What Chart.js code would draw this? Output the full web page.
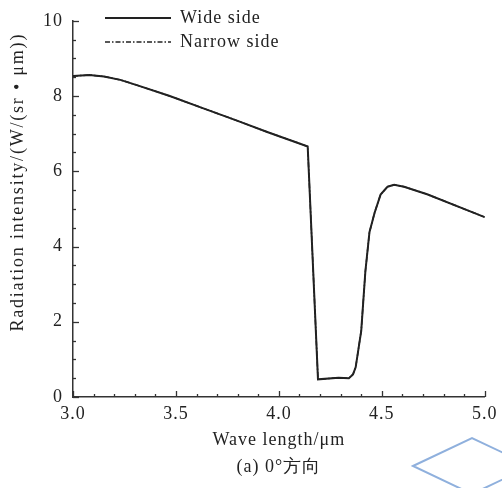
<!DOCTYPE html>
<html>
<head>
<meta charset="utf-8">
<script src="https://cdn.jsdelivr.net/npm/chart.js@4.4.0/dist/chart.umd.min.js"></script>
<style>
  html, body { margin: 0; padding: 0; background: #fff; }
  #wrap { width: 502px; height: 488px; }
</style>
</head>
<body>
<div id="wrap"><canvas id="radChart" width="502" height="488"></canvas></div>
<script>
// wavelength (um) and radiation intensity
const waveLength = [3.00, 3.08, 3.15, 3.23, 3.31, 3.47, 3.63, 3.79, 3.95, 4.11, 4.14,
  4.19, 4.29, 4.34, 4.36, 4.373, 4.40, 4.42, 4.44, 4.465, 4.494, 4.528, 4.56, 4.608, 4.72, 5.00];
const wideSide = [8.53, 8.56, 8.52, 8.43, 8.29, 8.00, 7.68, 7.36, 7.03, 6.72, 6.66,
  0.47, 0.51, 0.50, 0.60, 0.79, 1.76, 3.33, 4.38, 4.90, 5.38, 5.59, 5.64, 5.59, 5.39, 4.78];
// narrow side curve lies on top of the wide side one in the figure
const narrowSide = wideSide.slice();

const seriesNames = ["Wide side", "Narrow side"];
const xTitle = "Wave length/\u03bcm";
const yTitle = "Radiation intensity/(W/(sr \u2022 \u03bcm))";
const caption = "(a) 0\u00b0\u65b9\u5411";

const toPoints = (ys) => ys.map((y, i) => ({ x: waveLength[i], y: y }));
const near = (v, step) => Math.abs(v / step - Math.round(v / step)) < 1e-6;

Chart.defaults.font.family = "'Liberation Serif', 'Times New Roman', serif";
Chart.defaults.font.size = 18;
Chart.defaults.color = "#222";

// inward tick marks, major + minor
const innerTicks = {
  id: "innerTicks",
  afterDraw(chart) {
    const ctx = chart.ctx;
    const xs = chart.scales.x, ys = chart.scales.y;
    const area = chart.chartArea;
    ctx.save();
    ctx.strokeStyle = "#333";
    ctx.lineWidth = 1.3;
    ctx.setLineDash([]);
    xs.ticks.forEach(t => {
      const px = Math.round(xs.getPixelForValue(t.value)) + 0.5;
      const len = near(t.value, 0.5) ? 6 : 3;
      ctx.beginPath();
      ctx.moveTo(px, area.bottom);
      ctx.lineTo(px, area.bottom - len);
      ctx.stroke();
    });
    ys.ticks.forEach(t => {
      const py = Math.round(ys.getPixelForValue(t.value)) + 0.5;
      const len = near(t.value, 2) ? 6 : 3;
      ctx.beginPath();
      ctx.moveTo(area.left, py);
      ctx.lineTo(area.left + len, py);
      ctx.stroke();
    });
    ctx.restore();
  }
};

// legend sits inside the plot, top left
const legendSpot = {
  id: "legendSpot",
  afterLayout(chart) {
    const lg = chart.legend;
    if (!lg) return;
    lg.left = chart.chartArea.left + 26;
    lg.top = 3;
  }
};

// serif text in the figure is set loosely
const spacing = {
  id: "spacing",
  beforeDraw(chart) {
    chart.ctx.letterSpacing = "1px";
    const ys = chart.scales.y;
    if (ys && !ys._wrapped) {
      const orig = ys.drawTitle;
      ys.drawTitle = function () {
        const c = this.ctx;
        const prev = c.letterSpacing;
        c.save();
        c.translate(0, 12);
        c.letterSpacing = "1.8px";
        orig.apply(this, arguments);
        c.restore();
        c.letterSpacing = prev;
      };
      ys._wrapped = true;
    }
  }
};

// blue diamond overlapping the lower right corner of the figure
const diamond = {
  id: "diamond",
  afterDraw(chart) {
    const ctx = chart.ctx;
    ctx.save();
    ctx.strokeStyle = "#8fb0dd";
    ctx.lineWidth = 2;
    ctx.beginPath();
    ctx.moveTo(413, 466);
    ctx.lineTo(472, 438);
    ctx.lineTo(531, 466);
    ctx.lineTo(472, 494);
    ctx.closePath();
    ctx.stroke();
    ctx.restore();
  }
};

const ctx = document.getElementById("radChart").getContext("2d");
new Chart(ctx, {
  type: "line",
  data: {
    datasets: [
      {
        label: seriesNames[1],
        data: toPoints(narrowSide),
        borderColor: "#222",
        backgroundColor: "#222",
        borderWidth: 1.5,
        borderDash: [5, 2, 1.5, 2],
        pointRadius: 0,
        tension: 0
      },
      {
        label: seriesNames[0],
        data: toPoints(wideSide),
        borderColor: "#222",
        backgroundColor: "#222",
        borderWidth: 2,
        pointRadius: 0,
        tension: 0
      }
    ]
  },
  options: {
    responsive: false,
    animation: false,
    layout: { padding: { left: 0, right: 14, top: 16, bottom: 0 } },
    plugins: {
      legend: {
        position: "chartArea",
        align: "start",
        reverse: true,
        labels: {
          usePointStyle: true,
          pointStyle: "line",
          pointStyleWidth: 66,
          padding: 6,
          color: "#222",
          font: { size: 18 },
          generateLabels(chart) {
            const items = Chart.defaults.plugins.legend.labels.generateLabels(chart);
            items.forEach(it => {
              const ds = chart.data.datasets[it.datasetIndex];
              it.lineDash = ds.borderDash || [];
              it.lineWidth = ds.borderWidth;
            });
            return items;
          }
        }
      },
      tooltip: { enabled: false }
    },
    scales: {
      x: {
        type: "linear",
        min: 3,
        max: 5,
        afterFit(scale) { scale.height = 91; },
        border: { display: true, color: "#333", width: 1.5 },
        grid: { drawOnChartArea: false, drawTicks: false },
        ticks: {
          stepSize: 0.1,
          autoSkip: false,
          maxRotation: 0,
          padding: 6,
          callback: (v) => near(v, 0.5) ? Number(v).toFixed(1) : ""
        },
        title: {
          display: true,
          text: [xTitle, caption],
          font: { size: 18, lineHeight: 1.5 },
          padding: { top: 0, bottom: 7 }
        }
      },
      y: {
        min: 0,
        max: 10,
        afterFit(scale) { scale.width = 73; },
        border: { display: true, color: "#333", width: 1.5 },
        grid: { drawOnChartArea: false, drawTicks: false },
        ticks: {
          stepSize: 0.5,
          autoSkip: false,
          padding: 10,
          callback: (v) => near(v, 2) ? String(Math.round(v)) : ""
        },
        title: {
          display: true,
          text: yTitle,
          align: "end",
          font: { size: 18 },
          padding: { top: 7, bottom: 0 }
        }
      }
    }
  },
  plugins: [innerTicks, legendSpot, spacing, diamond]
});
</script>
</body>
</html>
